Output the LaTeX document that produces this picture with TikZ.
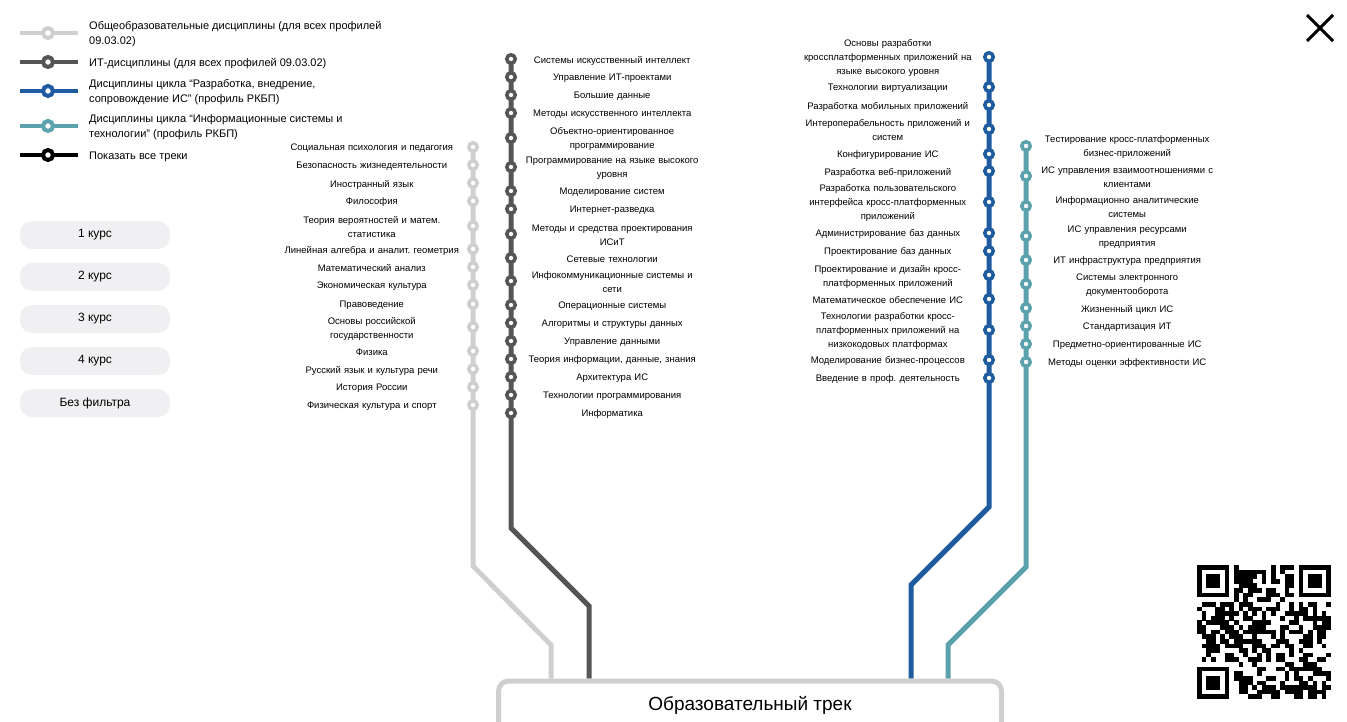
\documentclass[tikz,border=0pt]{standalone}
\usepackage{fontspec}
\setmainfont{Liberation Sans}
\frenchspacing
\usetikzlibrary{positioning,backgrounds}
\definecolor{lgray}{HTML}{CFCFCF}
\definecolor{dgray}{HTML}{555555}
\definecolor{tblue}{HTML}{1F5C9F}
\definecolor{tteal}{HTML}{5BA2AD}
\definecolor{btnfill}{HTML}{F0F0F2}

\begin{document}
\begin{tikzpicture}[x=1pt,y=-1pt]
      \tikzstyle{stop} = [circle, minimum size=8.5pt, inner sep=0pt,
      line width=3.5pt, fill=white]
      \tikzstyle{lbl} = [align=center, text width=190pt, inner sep=0pt,
      yshift=-1.5pt, font=\fontsize{9.5}{14}\selectfont]
      \tikzstyle{track} = [line width=5pt]
      \tikzstyle{key} = [line width=4pt]
      \tikzstyle{keytxt} = [anchor=west, align=left, inner sep=0pt,
      yshift=-1.5pt, font=\fontsize{11}{15}\selectfont]
      \tikzstyle{btn} = [fill=btnfill, rounded corners=12pt, minimum
      width=150pt, minimum height=28pt, font=\fontsize{12}{14}\selectfont]
      \useasboundingbox (0,0) rectangle (1347,722);
      % LEGEND
      \foreach \y/\c/\t [count=\i] in {33/lgray/{Общеобразовательные
        дисциплины (для всех профилей\\09.03.02)}, 62/dgray/{ИТ-дисциплины
        (для всех профилей 09.03.02)}, 91/tblue/{Дисциплины цикла
        “Разработка, внедрение,\\сопровождение ИС” (профиль РКБП)},
        126/tteal/{Дисциплины цикла “Информационные системы и\\технологии”
        (профиль РКБП)}, 155/black/{Показать все треки}} {
        \coordinate (ka\i) at (20,\y); \coordinate (kb\i) at (78,\y);
        \draw[key,\c] (ka\i) -- (kb\i);
        \node[stop,draw=\c,minimum size=10pt,line width=4pt] (k\i) at (48,\y) {};
        \node[keytxt] (kt\i) at (89,\y) {\t};
      }
      % BUTTONS
      \node[btn] (c1) at (95,235) {1 курс}; \node[btn] (c2) at (95,277) {2 курс};
      \node[btn] (c3) at (95,319) {3 курс}; \node[btn] (c4) at (95,361) {4 курс};
      \node[btn] (c5) at (95,403) {Без фильтра};
      % GENERAL
      \foreach \y/\t [count=\i] in {147/{Социальная психология и педагогия},
        165/{Безопасность жизнедеятельности}, 183/{Иностранный язык},
        201/{Философия}, 226/{Теория вероятностей и матем.\\статистика},
        249/{Линейная алгебра и аналит. геометрия}, 267/{Математический
        анализ}, 285/{Экономическая культура}, 304/{Правоведение},
        327/{Основы российской\\государственности}, 351/{Физика},
        369/{Русский язык и культура речи}, 387/{История России},
        405/{Физическая культура и спорт}} {
        \node[stop,draw=lgray] (g\i) at (473,\y) {};
        \node[lbl,left=0pt of g\i] (gl\i) {\t};
      }
      % IT
      \foreach \y/\t [count=\i] in {59/{Системы искусственный интеллект},
        77/{Управление ИТ-проектами}, 95/{Большие данные}, 113/{Методы
        искусственного интеллекта}, 138/{Объектно-ориентированное\\программирование},
        167/{Программирование на языке высокого\\уровня}, 191/{Моделирование
        систем}, 209/{Интернет-разведка}, 234/{Методы и средства
        проектирования\\ИСиТ}, 258/{Сетевые технологии},
        281/{Инфокоммуникационные системы и\\сети}, 305/{Операционные системы},
        323/{Алгоритмы и структуры данных}, 341/{Управление данными},
        359/{Теория информации, данные, знания}, 377/{Архитектура ИС},
        395/{Технологии программирования}, 413/{Информатика}} {
        \node[stop,draw=dgray] (d\i) at (511,\y) {};
        \node[lbl,right=0pt of d\i] (dl\i) {\t};
      }
      % RKBP DEV
      \foreach \y/\t [count=\i] in {57/{Основы разработки\\кроссплатформенных
        приложений на\\языке высокого уровня}, 87/{Технологии виртуализации},
        105/{Разработка мобильных приложений}, 129/{Интероперабельность
        приложений и\\систем}, 154/{Конфигурирование ИС}, 171/{Разработка
        веб-приложений}, 202/{Разработка пользовательского\\интерфейса
        кросс-платформенных\\приложений}, 233/{Администрирование баз данных},
        251/{Проектирование баз данных}, 275/{Проектирование и дизайн
        кросс-\\платформенных приложений}, 299/{Математическое обеспечение ИС},
        330/{Технологии разработки кросс-\\платформенных приложений
        на\\низкокодовых платформах}, 360/{Моделирование бизнес-процессов},
        378/{Введение в проф. деятельность}} {
        \node[stop,draw=tblue] (b\i) at (989,\y) {};
        \node[lbl,left=0pt of b\i] (bl\i) {\t};
      }
      % RKBP IS
      \foreach \y/\t [count=\i] in {146/{Тестирование
        кросс-платформенных\\бизнес-приложений}, 176/{ИС управления
        взаимоотношениями с\\клиентами}, 206/{Информационно
        аналитические\\системы}, 236/{ИС управления ресурсами\\предприятия},
        260/{ИТ инфраструктура предприятия}, 284/{Системы
        электронного\\документооборота}, 308/{Жизненный цикл ИС},
        326/{Стандартизация ИТ}, 344/{Предметно-ориентированные ИС},
        362/{Методы оценки эффективности ИС}} {
        \node[stop,draw=tteal] (t\i) at (1026,\y) {};
        \node[lbl,right=0pt of t\i] (tl\i) {\t};
      }
      % TRACK BOX
      \node[draw=lgray, line width=5pt, rounded corners=10pt, minimum
      width=503pt, minimum height=80pt, anchor=north] (box) at (750,678.5) {};
      \node[font=\fontsize{19}{22}\selectfont] (boxtxt) at (750,705)
      {Образовательный трек};
      \coordinate (g15) at (473,566); \coordinate (g16) at (551,645);
      \coordinate (d19) at (511,528); \coordinate (d20) at (589,606);
      \coordinate (b15) at (989,507); \coordinate (b16) at (911,585);
      \coordinate (t11) at (1026,567); \coordinate (t12) at (948,645);
      \begin{pgfonlayer}{background}
        \draw[track,lgray] (g1.center) -- (g15) -- (g16) -- (g16 |- box.north);
        \draw[track,dgray] (d1.center) -- (d19) -- (d20) -- (d20 |- box.north);
        \draw[track,tblue] (b1.center) -- (b15) -- (b16) -- (b16 |- box.north);
        \draw[track,tteal] (t1.center) -- (t11) -- (t12) -- (t12 |- box.north);
      \end{pgfonlayer}
      % CLOSE
      \coordinate (x1) at (1307,15); \coordinate (x2) at (1333,41);
      \coordinate (x3) at (1333,15); \coordinate (x4) at (1307,41);
      \draw[line width=3pt] (x1) -- (x2) (x3) -- (x4);
      % QR
      \pgfmathsetseed{23}
      \foreach \i in {0,...,28} {
        \foreach \j in {0,...,28} {
          \pgfmathtruncatemacro{\bit}{rnd<0.55}
          \ifnum\bit=1
            \fill (1197+\i*4.62,565+\j*4.62) rectangle ++(4.7,4.7);
          \fi
        }
      }
      \foreach \fx/\fy in {0/0,21/0,0/21} {
        \fill[white] (1197+\fx*4.62,565+\fy*4.62) rectangle ++(8*4.62,8*4.62);
        \fill (1197+\fx*4.62+\fx/21*4.62,565+\fy*4.62+\fy/21*4.62) rectangle ++(7*4.62,7*4.62);
        \fill[white] (1197+\fx*4.62+\fx/21*4.62+4.62,565+\fy*4.62+\fy/21*4.62+4.62) rectangle ++(5*4.62,5*4.62);
        \fill (1197+\fx*4.62+\fx/21*4.62+9.24,565+\fy*4.62+\fy/21*4.62+9.24) rectangle ++(3*4.62,3*4.62);
      }
\end{tikzpicture}
\end{document}
